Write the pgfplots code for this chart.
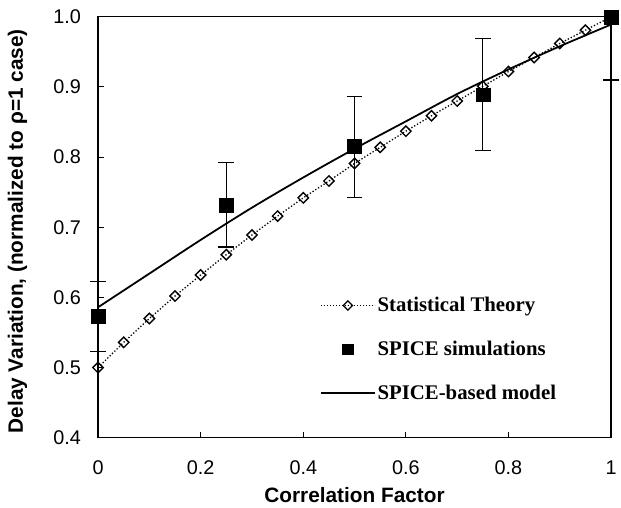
\documentclass[border=0pt]{standalone}
\usepackage{pgfplots}
\pgfplotsset{compat=1.18}
\usepackage{fontspec}
\setmainfont{Liberation Sans}
\newfontfamily\timesfont{Liberation Serif}
\begin{document}
\begin{tikzpicture}
\begin{axis}[
  scale only axis,
  width=518pt, height=425pt,
  xmin=0, xmax=1, ymin=0.4, ymax=1.0,
  xtick={0,0.2,0.4,0.6,0.8,1},
  ytick={0.4,0.5,0.6,0.7,0.8,0.9,1.0},
  yticklabel style={/pgf/number format/fixed,/pgf/number format/precision=1,/pgf/number format/fixed zerofill, anchor=east, inner sep=0pt, xshift=-17pt},
  xticklabel style={anchor=base, inner sep=0pt, yshift=-37pt},
  /pgf/number format/assume math mode=true,
  tick label style={font=\fontsize{20}{24}\selectfont},
  tick align=inside,
  xtick pos=bottom, ytick pos=left,
  major tick length=6pt,
  axis line style={line width=1.3pt},
  major tick style={line width=1pt, black},
  xlabel={\bfseries Correlation Factor},
  ylabel={\bfseries Delay Variation, (normalized to ρ=1 case)},
  label style={font=\fontsize{21}{25}\selectfont},
  xlabel style={at={(rel axis cs:0.5,0)}, anchor=base, inner sep=0pt, yshift=-65pt},
  ylabel style={at={(rel axis cs:0,0.5)}, anchor=base, inner sep=0pt, yshift=76pt, xshift=-4pt},
  clip=false,
  legend style={at={(0.427,0.343)}, anchor=north west, draw=none, fill=none,
    font=\timesfont\bfseries\fontsize{21}{25}\selectfont, row sep=24pt,
    cells={anchor=west}},
]
\addlegendimage{legend image code/.code={\draw[line width=1pt, dotted, mark=square, mark repeat=2, mark phase=2, mark options={solid, rotate=45, line width=1.3pt, fill=white}, mark size=3.3pt] plot coordinates {(0pt,0pt) (27pt,0pt) (54pt,0pt)};}}
\addlegendentry{Statistical Theory}
\addlegendimage{legend image code/.code={\draw[only marks, mark=square*, mark size=5.5pt] plot coordinates {(27pt,0pt)};}}
\addlegendentry{SPICE simulations}
\addlegendimage{legend image code/.code={\draw[line width=1.8pt] (0pt,0pt) -- (54pt,0pt);}}
\addlegendentry{SPICE-based model}

% Statistical theory
\addplot[forget plot, black, line width=1.3pt, dotted, mark=square, mark size=3.7pt,
  mark options={solid, rotate=45, line width=1.4pt, fill=none}] coordinates {
(0,0.500) (0.05,0.536) (0.10,0.570) (0.15,0.602) (0.20,0.632) (0.25,0.661)
(0.30,0.689) (0.35,0.716) (0.40,0.742) (0.45,0.766) (0.50,0.791) (0.55,0.814)
(0.60,0.837) (0.65,0.859) (0.70,0.880) (0.75,0.901) (0.80,0.922) (0.85,0.942)
(0.90,0.962) (0.95,0.981) (1.00,1.000)};

% SPICE-based model
\addplot[forget plot, black, line width=1.8pt, smooth] coordinates {
(0,0.586) (0.1,0.634) (0.2,0.682) (0.3,0.728) (0.4,0.771) (0.5,0.812)
(0.6,0.851) (0.7,0.890) (0.8,0.925) (0.9,0.958) (1.0,0.989)};

% SPICE simulations
\addplot[forget plot, black, only marks, mark=square*, mark size=7pt,
  error bars/.cd, y dir=both, y explicit,
  error bar style={line width=1.2pt},
  error mark options={rotate=90, mark size=8pt, line width=1.2pt}]
  coordinates {
(0,0.573) +- (0,0.05)
(0.25,0.732) +- (0,0.06)
(0.5,0.815) +- (0,0.072)
(0.75,0.889) +- (0,0.08)
(1.0,1.000) -= (0,0.09)
};
\end{axis}
\pgfresetboundingbox
\path[use as bounding box] ([xshift=-99pt,yshift=-70pt]current axis.south west) rectangle ([xshift=10pt,yshift=17pt]current axis.north east);
\end{tikzpicture}
\end{document}
